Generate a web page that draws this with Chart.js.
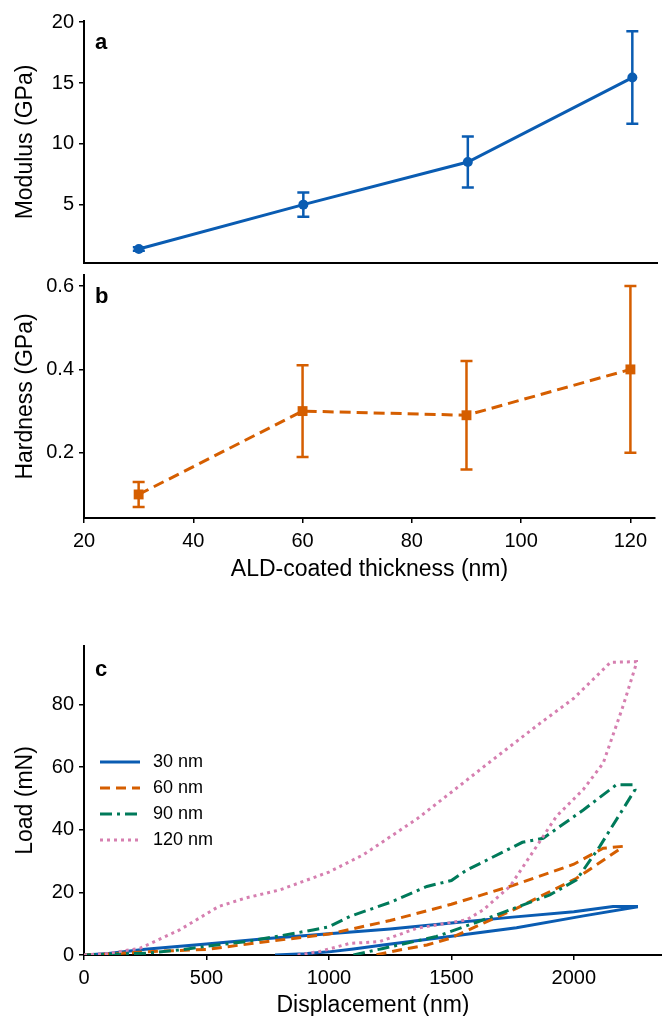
<!DOCTYPE html>
<html>
<head>
<meta charset="utf-8">
<script src="https://cdn.jsdelivr.net/npm/chart.js@4"></script>
<style>
html, body { margin: 0; padding: 0; background: #fff; overflow: hidden; width: 662px; height: 1016px; }
canvas { position: absolute; left: 0; }
</style>
</head>
<body>
<canvas id="chartA" width="662" height="268" style="top:0px"></canvas>
<canvas id="chartB" width="662" height="332" style="top:268px"></canvas>
<canvas id="chartC" width="662" height="420" style="top:600px"></canvas>
<script>
// panels a / b : mechanical properties vs coating thickness
const thickness = [30, 60, 90, 120];
const modulus = [1.35, 5.0, 8.5, 15.45];
const modulusErr = [0.15, 1.0, 2.1, 3.8];
const hardness = [0.10, 0.30, 0.29, 0.40];
const hardnessErr = [0.03, 0.11, 0.13, 0.20];

// tick values
const thicknessTicks = [20, 40, 60, 80, 100, 120];
const modulusTicks = [5, 10, 15, 20];
const hardnessTicks = [0.2, 0.4, 0.6];
const dispTicks = [0, 500, 1000, 1500, 2000];
const loadTicks = [0, 20, 40, 60, 80];

// panel c : load-displacement curves (loading then unloading)
const curveLabels = ["30 nm", "60 nm", "90 nm", "120 nm"];
const disp30 = [0, 100, 250, 500, 750, 1000, 1250, 1500, 1750, 2000, 2160, 2256, 2256, 2040, 1766, 1493, 1221, 1100, 1000, 900, 780];
const load30 = [0, 0.5, 1.8, 3.5, 5.3, 6.8, 8.3, 10.2, 12.1, 13.8, 15.5, 15.5, 15.3, 12.5, 8.7, 5.9, 3.2, 1.9, 1.0, 0.4, 0];
const disp60 = [0, 100, 250, 500, 750, 1000, 1250, 1500, 1750, 2000, 2120, 2200, 2200, 2011, 1766, 1493, 1400, 1289, 1190];
const load60 = [0, 0.3, 1.0, 1.8, 4.3, 6.7, 11.0, 16.2, 22.2, 29.0, 34.1, 34.7, 34.5, 24.5, 14.9, 5.3, 3.2, 1.6, 0];
const disp90 = [0, 150, 254, 390, 500, 663, 800, 935, 1000, 1085, 1250, 1400, 1500, 1560, 1790, 1875, 2040, 2174, 2240, 2250, 2106, 2011, 1902, 1630, 1439, 1221, 1100];
const load90 = [0, 0.3, 0.6, 1.6, 2.8, 4.3, 6.1, 8.0, 9.0, 12.3, 16.8, 21.9, 23.8, 27.0, 36.0, 37.3, 46.4, 54.4, 54.4, 52.8, 34.7, 24.0, 19.2, 11.2, 5.9, 2.1, 0];
const disp120 = [0, 100, 230, 390, 550, 660, 800, 1000, 1140, 1360, 1500, 1630, 1850, 2000, 2150, 2256, 2256, 2201, 2120, 2038, 1929, 1848, 1739, 1630, 1561, 1357, 1208, 1085, 962, 870];
const load120 = [0, 0.5, 2.2, 8.0, 15.5, 18.2, 20.8, 26.5, 32.0, 43.5, 52.0, 60.0, 73.3, 82.0, 93.5, 93.7, 93.3, 79.5, 61.3, 52.8, 44.3, 34.7, 21.9, 14.4, 11.2, 8.5, 4.3, 3.7, 1.1, 0];

const BLUE = "#0A5CB2";
const ORANGE = "#D55E00";
const GREEN = "#007A5A";
const PINK = "#D67FB0";
const FONT = '"Liberation Sans", Arial, Helvetica, sans-serif';

const toPoints = (xs, ys) => xs.map((x, i) => ({ x: x, y: ys[i] }));

const errorBars = {
    id: "errorBars",
    beforeDatasetsDraw(chart, args, opts) {
        if (!opts.errors) return;
        const { ctx, scales: { x, y } } = chart;
        const ds = chart.data.datasets[0];
        ctx.save();
        ctx.strokeStyle = opts.color;
        ctx.lineWidth = 2.5;
        ctx.setLineDash([]);
        ds.data.forEach((p, i) => {
            const px = x.getPixelForValue(p.x);
            const top = y.getPixelForValue(p.y + opts.errors[i]);
            const bot = y.getPixelForValue(p.y - opts.errors[i]);
            ctx.beginPath();
            ctx.moveTo(px, top); ctx.lineTo(px, bot);
            ctx.moveTo(px - 6, top); ctx.lineTo(px + 6, top);
            ctx.moveTo(px - 6, bot); ctx.lineTo(px + 6, bot);
            ctx.stroke();
        });
        ctx.restore();
    }
};

const panelLabel = {
    id: "panelLabel",
    afterDraw(chart, args, opts) {
        const { ctx, chartArea } = chart;
        ctx.save();
        ctx.font = "bold 22px " + FONT;
        ctx.fillStyle = "#000";
        ctx.textBaseline = "middle";
        ctx.fillText(opts.text, chartArea.left + 11, chartArea.top + opts.dy);
        ctx.restore();
    }
};

const curveLegend = {
    id: "curveLegend",
    afterDatasetsDraw(chart) {
        const { ctx, chartArea } = chart;
        ctx.save();
        ctx.font = "18px " + FONT;
        ctx.textBaseline = "middle";
        chart.data.datasets.forEach((ds, i) => {
            const y = chartArea.top + 116 + i * 26;
            const x0 = chartArea.left + 16;
            ctx.strokeStyle = ds.borderColor;
            ctx.lineWidth = ds.borderWidth;
            ctx.setLineDash(ds.borderDash || []);
            ctx.beginPath();
            ctx.moveTo(x0, y);
            ctx.lineTo(x0 + 40, y);
            ctx.stroke();
            ctx.fillStyle = "#000";
            ctx.fillText(ds.label, x0 + 53, y);
        });
        ctx.restore();
    }
};

const tickGrid = { display: true, drawOnChartArea: false, drawTicks: true, tickLength: 5, color: "#000", lineWidth: 1.5 };
const spine = { display: true, color: "#000", width: 2 };
const tickFont = { family: FONT, size: 20 };
const titleFont = { family: FONT, size: 23, lineHeight: 1 };

const fixedTicks = values => s => { s.ticks = values.map(v => ({ value: v })); };

function yScale(min, max, values, title, digits) {
    return {
        type: "linear", min: min, max: max,
        grid: tickGrid, border: spine,
        afterBuildTicks: fixedTicks(values),
        ticks: { color: "#000", font: tickFont, padding: 5, callback: v => v.toFixed(digits) },
        title: { display: true, text: title, color: "#000", font: titleFont, padding: { top: 14.5, bottom: 0 } },
        afterFit: s => { s.width = 84; s.paddingTop = 0; s.paddingBottom = 0; }
    };
}

function xScale(min, max, values, title, height, titlePad) {
    return {
        type: "linear", min: min, max: max,
        grid: tickGrid, border: spine,
        afterBuildTicks: fixedTicks(values),
        ticks: { color: "#000", font: tickFont, padding: 6, maxRotation: 0, autoSkip: false, callback: v => String(v) },
        title: { display: true, text: title, color: "#000", font: titleFont, padding: { top: 0, bottom: titlePad } },
        afterFit: s => { s.height = height; s.paddingLeft = 0; s.paddingRight = 0; }
    };
}

const baseOptions = {
    responsive: false,
    animation: false,
    devicePixelRatio: 1,
    plugins: { legend: { display: false }, tooltip: { enabled: false } }
};

// panel a
new Chart(document.getElementById("chartA"), {
    type: "scatter",
    data: {
        datasets: [{
            data: toPoints(thickness, modulus),
            showLine: true, borderColor: BLUE, borderWidth: 3,
            pointRadius: 5, pointBackgroundColor: BLUE, pointBorderWidth: 0
        }]
    },
    options: {
        ...baseOptions,
        layout: { padding: { top: 21, right: 0, bottom: 0, left: 0 } },
        plugins: { ...baseOptions.plugins, errorBars: { errors: modulusErr, color: BLUE }, panelLabel: { text: "a", dy: 22 } },
        scales: {
            x: {
                type: "linear", min: 20, max: 124.5,
                grid: { display: false }, border: spine,
                ticks: { display: false },
                afterFit: s => { s.height = 5; s.paddingLeft = 0; s.paddingRight = 0; }
            },
            y: yScale(0.2, 20.1, modulusTicks, "Modulus (GPa)", 0)
        }
    },
    plugins: [errorBars, panelLabel]
});

// panel b
new Chart(document.getElementById("chartB"), {
    type: "scatter",
    data: {
        datasets: [{
            data: toPoints(thickness, hardness),
            showLine: true, borderColor: ORANGE, borderWidth: 3, borderDash: [11, 6],
            pointStyle: "rect", pointRadius: 7, pointBackgroundColor: ORANGE, pointBorderWidth: 0
        }]
    },
    options: {
        ...baseOptions,
        layout: { padding: { top: 7, right: 0, bottom: 0, left: 0 } },
        plugins: { ...baseOptions.plugins, errorBars: { errors: hardnessErr, color: ORANGE }, panelLabel: { text: "b", dy: 22 } },
        scales: {
            x: xScale(20, 124.5, thicknessTicks, "ALD-coated thickness (nm)", 82, 18.5),
            y: yScale(0.0435, 0.6265, hardnessTicks, "Hardness (GPa)", 1)
        }
    },
    plugins: [errorBars, panelLabel]
});

// panel c
const curveStyle = (label, color, dash, order) => ({
    label: label, showLine: true, borderColor: color, borderWidth: 3, borderDash: dash,
    pointRadius: 0, fill: false, tension: 0, order: order
});

new Chart(document.getElementById("chartC"), {
    type: "scatter",
    data: {
        datasets: [
            { ...curveStyle(curveLabels[0], BLUE, [], 3), data: toPoints(disp30, load30) },
            { ...curveStyle(curveLabels[1], ORANGE, [10, 6], 2), data: toPoints(disp60, load60) },
            { ...curveStyle(curveLabels[2], GREEN, [12, 5, 3, 5], 1), data: toPoints(disp90, load90) },
            { ...curveStyle(curveLabels[3], PINK, [3, 4], 0), data: toPoints(disp120, load120) }
        ]
    },
    options: {
        ...baseOptions,
        layout: { padding: { top: 46, right: 0, bottom: 0, left: 0 } },
        plugins: { ...baseOptions.plugins, panelLabel: { text: "c", dy: 24 } },
        scales: {
            x: xScale(0, 2360, dispTicks, "Displacement (nm)", 65, 2.5),
            y: yScale(0, 98.7, loadTicks, "Load (mN)", 0)
        }
    },
    plugins: [curveLegend, panelLabel]
});
</script>
</body>
</html>
